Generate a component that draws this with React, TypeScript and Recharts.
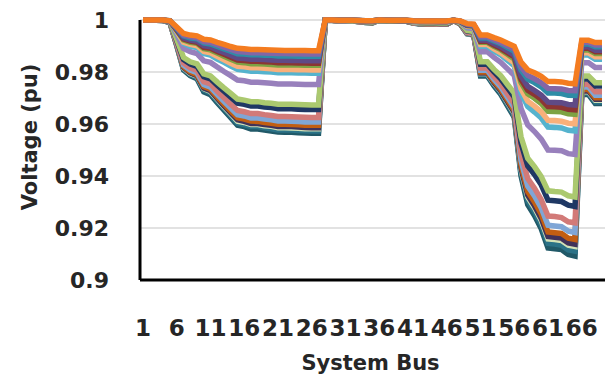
import React from 'react';
import { LineChart, Line, XAxis, YAxis, CartesianGrid, Label } from 'recharts';

// Bus numbers of the 69-bus feeder
const buses = [
  1, 2, 3, 4, 5, 6, 7, 8, 9, 10, 11, 12, 13, 14, 15, 16, 17, 18, 19, 20, 21, 22, 23,
  24, 25, 26, 27, 28, 29, 30, 31, 32, 33, 34, 35, 36, 37, 38, 39, 40, 41, 42, 43, 44,
  45, 46, 47, 48, 49, 50, 51, 52, 53, 54, 55, 56, 57, 58, 59, 60, 61, 62, 63, 64, 65,
  66, 67, 68, 69,
];

const yTicks = [0.9, 0.92, 0.94, 0.96, 0.98, 1];

// Bus voltage profiles (pu), one array per load level, heaviest load first.
// Each array: buses 1-27 / 28-47 / 48-69.
const v100 = [
  1.0, 1.0, 0.9999, 0.9998, 0.999, 0.9901, 0.9808, 0.9786, 0.9774, 0.9724, 0.9713, 0.9682, 0.9653, 0.9624, 0.9595, 0.959, 0.9581, 0.9581, 0.9577, 0.9573, 0.9569, 0.9568, 0.9568, 0.9566, 0.9565, 0.9564, 0.9564,
  0.9999, 0.9998, 0.9997, 0.9997, 0.9996, 0.9993, 0.999, 0.9989, 0.9999, 0.9997, 0.9996, 0.9995, 0.9995, 0.9988, 0.9985, 0.9985, 0.9985, 0.9984, 0.9984, 0.9998,
  0.9985, 0.9947, 0.9942, 0.9785, 0.9785, 0.9747, 0.9714, 0.967, 0.9626, 0.9401, 0.929, 0.9248, 0.9197, 0.9123, 0.912, 0.9117, 0.9098, 0.9092, 0.9713, 0.9713, 0.9679, 0.9679,
];
const v98 = [
  1.0, 1.0, 0.9999, 0.9998, 0.999, 0.9903, 0.9812, 0.979, 0.9779, 0.973, 0.9719, 0.9688, 0.966, 0.9631, 0.9603, 0.9598, 0.959, 0.959, 0.9585, 0.9582, 0.9577, 0.9577, 0.9577, 0.9575, 0.9574, 0.9573, 0.9573,
  0.9999, 0.9999, 0.9997, 0.9997, 0.9996, 0.9994, 0.999, 0.999, 0.9999, 0.9998, 0.9996, 0.9995, 0.9995, 0.9989, 0.9986, 0.9985, 0.9985, 0.9984, 0.9984, 0.9998,
  0.9986, 0.9948, 0.9943, 0.979, 0.979, 0.9752, 0.972, 0.9676, 0.9633, 0.9413, 0.9305, 0.9263, 0.9213, 0.9141, 0.9138, 0.9134, 0.9116, 0.9111, 0.9719, 0.9719, 0.9685, 0.9685,
];
const v96 = [
  1.0, 1.0, 0.9999, 0.9998, 0.9991, 0.9905, 0.9816, 0.9794, 0.9784, 0.9736, 0.9725, 0.9695, 0.9666, 0.9639, 0.9611, 0.9606, 0.9598, 0.9598, 0.9593, 0.9591, 0.9586, 0.9586, 0.9585, 0.9584, 0.9582, 0.9582, 0.9582,
  0.9999, 0.9999, 0.9997, 0.9997, 0.9996, 0.9994, 0.999, 0.999, 0.9999, 0.9998, 0.9996, 0.9996, 0.9996, 0.9989, 0.9986, 0.9986, 0.9986, 0.9985, 0.9985, 0.9998,
  0.9986, 0.9949, 0.9944, 0.9794, 0.9794, 0.9757, 0.9726, 0.9683, 0.9641, 0.9425, 0.9319, 0.9278, 0.9229, 0.9158, 0.9156, 0.9152, 0.9134, 0.9129, 0.9724, 0.9724, 0.9691, 0.9691,
];
const v95 = [
  1.0, 1.0, 0.9999, 0.9998, 0.9991, 0.9906, 0.9818, 0.9797, 0.9786, 0.9738, 0.9728, 0.9698, 0.967, 0.9643, 0.9616, 0.961, 0.9602, 0.9602, 0.9598, 0.9595, 0.959, 0.959, 0.959, 0.9588, 0.9587, 0.9586, 0.9586,
  0.9999, 0.9999, 0.9997, 0.9997, 0.9996, 0.9994, 0.9991, 0.999, 0.9999, 0.9998, 0.9996, 0.9996, 0.9996, 0.9989, 0.9986, 0.9986, 0.9986, 0.9985, 0.9985, 0.9998,
  0.9986, 0.995, 0.9944, 0.9796, 0.9796, 0.9759, 0.9728, 0.9686, 0.9645, 0.9431, 0.9326, 0.9285, 0.9237, 0.9167, 0.9164, 0.9161, 0.9143, 0.9138, 0.9727, 0.9727, 0.9695, 0.9695,
];
const v93 = [
  1.0, 1.0, 0.9999, 0.9999, 0.9991, 0.9908, 0.9821, 0.9801, 0.979, 0.9744, 0.9734, 0.9704, 0.9677, 0.965, 0.9624, 0.9619, 0.9611, 0.961, 0.9606, 0.9603, 0.9599, 0.9599, 0.9598, 0.9597, 0.9595, 0.9595, 0.9595,
  0.9999, 0.9999, 0.9997, 0.9997, 0.9996, 0.9994, 0.9991, 0.999, 0.9999, 0.9998, 0.9996, 0.9996, 0.9996, 0.9989, 0.9987, 0.9986, 0.9986, 0.9985, 0.9985, 0.9998,
  0.9986, 0.9951, 0.9946, 0.98, 0.98, 0.9764, 0.9734, 0.9693, 0.9652, 0.9443, 0.934, 0.93, 0.9253, 0.9185, 0.9182, 0.9179, 0.9161, 0.9156, 0.9733, 0.9733, 0.9701, 0.9701,
];
const v90 = [
  1.0, 1.0, 0.9999, 0.9999, 0.9991, 0.9911, 0.9827, 0.9807, 0.9797, 0.9752, 0.9742, 0.9714, 0.9687, 0.9661, 0.9636, 0.9631, 0.9623, 0.9623, 0.9619, 0.9616, 0.9612, 0.9612, 0.9611, 0.961, 0.9608, 0.9608, 0.9608,
  0.9999, 0.9999, 0.9998, 0.9997, 0.9996, 0.9994, 0.9991, 0.9991, 0.9999, 0.9998, 0.9996, 0.9996, 0.9996, 0.999, 0.9987, 0.9987, 0.9987, 0.9986, 0.9986, 0.9998,
  0.9987, 0.9952, 0.9947, 0.9807, 0.9807, 0.9772, 0.9743, 0.9703, 0.9663, 0.9461, 0.9361, 0.9323, 0.9277, 0.9211, 0.9208, 0.9205, 0.9188, 0.9183, 0.9742, 0.9742, 0.9711, 0.9711,
];
const v86 = [
  1.0, 1.0, 0.9999, 0.9999, 0.9992, 0.9915, 0.9835, 0.9816, 0.9806, 0.9763, 0.9754, 0.9726, 0.9701, 0.9676, 0.9652, 0.9647, 0.964, 0.964, 0.9636, 0.9633, 0.9629, 0.9629, 0.9628, 0.9627, 0.9626, 0.9625, 0.9625,
  0.9999, 0.9999, 0.9998, 0.9998, 0.9997, 0.9994, 0.9991, 0.9991, 0.9999, 0.9998, 0.9996, 0.9996, 0.9996, 0.999, 0.9988, 0.9987, 0.9987, 0.9986, 0.9986, 0.9998,
  0.9987, 0.9954, 0.995, 0.9815, 0.9815, 0.9782, 0.9754, 0.9716, 0.9678, 0.9485, 0.939, 0.9353, 0.9309, 0.9246, 0.9244, 0.924, 0.9224, 0.922, 0.9753, 0.9753, 0.9724, 0.9724,
];
const v79 = [
  1.0, 1.0, 0.9999, 0.9999, 0.9992, 0.9922, 0.9848, 0.9831, 0.9822, 0.9782, 0.9774, 0.9749, 0.9726, 0.9703, 0.968, 0.9676, 0.9669, 0.9669, 0.9665, 0.9663, 0.9659, 0.9659, 0.9659, 0.9657, 0.9656, 0.9656, 0.9656,
  0.9999, 0.9999, 0.9998, 0.9998, 0.9997, 0.9995, 0.9992, 0.9992, 0.9999, 0.9998, 0.9997, 0.9996, 0.9996, 0.9991, 0.9989, 0.9988, 0.9988, 0.9987, 0.9987, 0.9998,
  0.9988, 0.9958, 0.9954, 0.983, 0.983, 0.98, 0.9774, 0.9739, 0.9704, 0.9527, 0.9439, 0.9406, 0.9366, 0.9307, 0.9305, 0.9302, 0.9288, 0.9283, 0.9773, 0.9773, 0.9746, 0.9746,
];
const v75 = [
  1.0, 1.0, 0.9999, 0.9999, 0.9993, 0.9926, 0.9856, 0.9839, 0.9831, 0.9793, 0.9785, 0.9761, 0.9739, 0.9718, 0.9696, 0.9692, 0.9686, 0.9686, 0.9682, 0.968, 0.9676, 0.9676, 0.9676, 0.9675, 0.9674, 0.9673, 0.9673,
  0.9999, 0.9999, 0.9998, 0.9998, 0.9997, 0.9995, 0.9993, 0.9992, 0.9999, 0.9998, 0.9997, 0.9997, 0.9997, 0.9991, 0.9989, 0.9989, 0.9989, 0.9988, 0.9988, 0.9998,
  0.9989, 0.996, 0.9956, 0.9839, 0.9839, 0.981, 0.9786, 0.9752, 0.9719, 0.9551, 0.9468, 0.9436, 0.9398, 0.9343, 0.934, 0.9338, 0.9324, 0.9319, 0.9785, 0.9785, 0.9759, 0.9759,
];
const v57 = [
  1.0, 1.0, 1.0, 0.9999, 0.9994, 0.9944, 0.9891, 0.9878, 0.9871, 0.9843, 0.9837, 0.9819, 0.9802, 0.9786, 0.9769, 0.9766, 0.9761, 0.9761, 0.9759, 0.9757, 0.9754, 0.9754, 0.9754, 0.9753, 0.9752, 0.9752, 0.9752,
  1.0, 0.9999, 0.9998, 0.9998, 0.9998, 0.9996, 0.9994, 0.9994, 1.0, 0.9999, 0.9998, 0.9997, 0.9997, 0.9993, 0.9992, 0.9992, 0.9991, 0.9991, 0.9991, 0.9999,
  0.9992, 0.997, 0.9967, 0.9878, 0.9878, 0.9856, 0.9837, 0.9812, 0.9787, 0.9659, 0.9596, 0.9571, 0.9542, 0.95, 0.9499, 0.9497, 0.9486, 0.9483, 0.9836, 0.9836, 0.9817, 0.9817,
];
const v47 = [
  1.0, 1.0, 1.0, 0.9999, 0.9995, 0.9953, 0.991, 0.9899, 0.9894, 0.9871, 0.9865, 0.985, 0.9837, 0.9823, 0.981, 0.9807, 0.9803, 0.9803, 0.9801, 0.98, 0.9797, 0.9797, 0.9797, 0.9796, 0.9796, 0.9795, 0.9795,
  1.0, 0.9999, 0.9999, 0.9999, 0.9998, 0.9997, 0.9995, 0.9995, 1.0, 0.9999, 0.9998, 0.9998, 0.9998, 0.9995, 0.9993, 0.9993, 0.9993, 0.9993, 0.9992, 0.9999,
  0.9993, 0.9975, 0.9973, 0.9899, 0.9899, 0.9881, 0.9866, 0.9845, 0.9824, 0.9719, 0.9667, 0.9646, 0.9623, 0.9588, 0.9587, 0.9585, 0.9576, 0.9573, 0.9865, 0.9865, 0.9849, 0.9849,
];
const v44 = [
  1.0, 1.0, 1.0, 0.9999, 0.9996, 0.9956, 0.9915, 0.9906, 0.9901, 0.9879, 0.9874, 0.986, 0.9847, 0.9834, 0.9822, 0.982, 0.9816, 0.9816, 0.9814, 0.9812, 0.981, 0.981, 0.981, 0.9809, 0.9809, 0.9808, 0.9808,
  1.0, 0.9999, 0.9999, 0.9999, 0.9998, 0.9997, 0.9996, 0.9995, 1.0, 0.9999, 0.9998, 0.9998, 0.9998, 0.9995, 0.9994, 0.9993, 0.9993, 0.9993, 0.9993, 0.9999,
  0.9994, 0.9977, 0.9974, 0.9906, 0.9906, 0.9889, 0.9874, 0.9855, 0.9835, 0.9736, 0.9688, 0.9669, 0.9647, 0.9614, 0.9613, 0.9611, 0.9603, 0.9601, 0.9874, 0.9874, 0.9859, 0.9859,
];
const v40 = [
  1.0, 1.0, 1.0, 0.9999, 0.9996, 0.996, 0.9923, 0.9914, 0.991, 0.989, 0.9885, 0.9873, 0.9861, 0.9849, 0.9838, 0.9836, 0.9832, 0.9832, 0.9831, 0.9829, 0.9827, 0.9827, 0.9827, 0.9827, 0.9826, 0.9826, 0.9826,
  1.0, 0.9999, 0.9999, 0.9999, 0.9998, 0.9997, 0.9996, 0.9996, 1.0, 0.9999, 0.9998, 0.9998, 0.9998, 0.9995, 0.9994, 0.9994, 0.9994, 0.9994, 0.9994, 0.9999,
  0.9994, 0.9979, 0.9977, 0.9914, 0.9914, 0.9899, 0.9886, 0.9868, 0.985, 0.976, 0.9716, 0.9699, 0.9679, 0.9649, 0.9648, 0.9647, 0.9639, 0.9637, 0.9885, 0.9885, 0.9871, 0.9871,
];
const v38 = [
  1.0, 1.0, 1.0, 0.9999, 0.9996, 0.9962, 0.9927, 0.9919, 0.9914, 0.9895, 0.9891, 0.9879, 0.9868, 0.9857, 0.9846, 0.9844, 0.9841, 0.9841, 0.9839, 0.9838, 0.9836, 0.9836, 0.9836, 0.9835, 0.9835, 0.9834, 0.9834,
  1.0, 0.9999, 0.9999, 0.9999, 0.9999, 0.9998, 0.9996, 0.9996, 1.0, 0.9999, 0.9998, 0.9998, 0.9998, 0.9996, 0.9994, 0.9994, 0.9994, 0.9994, 0.9994, 0.9999,
  0.9994, 0.998, 0.9978, 0.9918, 0.9918, 0.9904, 0.9891, 0.9874, 0.9858, 0.9772, 0.973, 0.9714, 0.9695, 0.9667, 0.9666, 0.9664, 0.9657, 0.9655, 0.9891, 0.9891, 0.9878, 0.9878,
];
const v36 = [
  1.0, 1.0, 1.0, 0.9999, 0.9996, 0.9964, 0.9931, 0.9923, 0.9919, 0.9901, 0.9897, 0.9885, 0.9875, 0.9865, 0.9854, 0.9852, 0.9849, 0.9849, 0.9848, 0.9846, 0.9845, 0.9845, 0.9844, 0.9844, 0.9843, 0.9843, 0.9843,
  1.0, 0.9999, 0.9999, 0.9999, 0.9999, 0.9998, 0.9996, 0.9996, 1.0, 0.9999, 0.9999, 0.9998, 0.9998, 0.9996, 0.9995, 0.9995, 0.9995, 0.9994, 0.9994, 0.9999,
  0.9995, 0.9981, 0.9979, 0.9923, 0.9923, 0.9909, 0.9897, 0.9881, 0.9865, 0.9784, 0.9745, 0.9729, 0.9711, 0.9684, 0.9683, 0.9682, 0.9675, 0.9673, 0.9897, 0.9897, 0.9884, 0.9884,
];
const v32 = [
  1.0, 1.0, 1.0, 0.9999, 0.9997, 0.9968, 0.9939, 0.9931, 0.9928, 0.9912, 0.9908, 0.9898, 0.9889, 0.988, 0.987, 0.9869, 0.9866, 0.9866, 0.9864, 0.9864, 0.9862, 0.9862, 0.9862, 0.9861, 0.9861, 0.9861, 0.9861,
  1.0, 1.0, 0.9999, 0.9999, 0.9999, 0.9998, 0.9997, 0.9997, 1.0, 0.9999, 0.9999, 0.9999, 0.9999, 0.9996, 0.9995, 0.9995, 0.9995, 0.9995, 0.9995, 0.9999,
  0.9995, 0.9983, 0.9981, 0.9931, 0.9931, 0.9919, 0.9909, 0.9894, 0.988, 0.9808, 0.9773, 0.9759, 0.9743, 0.9719, 0.9719, 0.9717, 0.9711, 0.971, 0.9908, 0.9908, 0.9897, 0.9897,
];
const v30 = [
  1.0, 1.0, 1.0, 1.0, 0.9997, 0.997, 0.9942, 0.9936, 0.9932, 0.9917, 0.9914, 0.9905, 0.9896, 0.9887, 0.9879, 0.9877, 0.9874, 0.9874, 0.9873, 0.9872, 0.9871, 0.9871, 0.987, 0.987, 0.9869, 0.9869, 0.9869,
  1.0, 1.0, 0.9999, 0.9999, 0.9999, 0.9998, 0.9997, 0.9997, 1.0, 0.9999, 0.9999, 0.9999, 0.9999, 0.9997, 0.9996, 0.9996, 0.9996, 0.9995, 0.9995, 0.9999,
  0.9996, 0.9984, 0.9982, 0.9936, 0.9936, 0.9924, 0.9914, 0.9901, 0.9888, 0.982, 0.9787, 0.9774, 0.9759, 0.9737, 0.9736, 0.9735, 0.9729, 0.9728, 0.9914, 0.9914, 0.9904, 0.9904,
];
const v27 = [
  1.0, 1.0, 1.0, 1.0, 0.9997, 0.9973, 0.9948, 0.9942, 0.9939, 0.9926, 0.9923, 0.9914, 0.9906, 0.9898, 0.9891, 0.9889, 0.9887, 0.9887, 0.9886, 0.9885, 0.9884, 0.9883, 0.9883, 0.9883, 0.9883, 0.9882, 0.9882,
  1.0, 1.0, 0.9999, 0.9999, 0.9999, 0.9998, 0.9997, 0.9997, 1.0, 0.9999, 0.9999, 0.9999, 0.9999, 0.9997, 0.9996, 0.9996, 0.9996, 0.9996, 0.9996, 0.9999,
  0.9996, 0.9986, 0.9984, 0.9942, 0.9942, 0.9932, 0.9923, 0.9911, 0.9899, 0.9838, 0.9808, 0.9797, 0.9783, 0.9763, 0.9763, 0.9762, 0.9757, 0.9755, 0.9922, 0.9922, 0.9913, 0.9913,
];

// Drawn in this order, so the lightest load ends up on top
const series = [
  { key: 'v100', color: '#215968', values: v100 },
  { key: 'v98', color: '#2B7287', values: v98 },
  { key: 'v96', color: '#D4E2B6', values: v96 },
  { key: 'v95', color: '#40325A', values: v95 },
  { key: 'v93', color: '#C25E12', values: v93 },
  { key: 'v90', color: '#7FA6D6', values: v90 },
  { key: 'v86', color: '#D27A78', values: v86 },
  { key: 'v79', color: '#1F3864', values: v79 },
  { key: 'v75', color: '#ABC96F', values: v75 },
  { key: 'v57', color: '#9880BC', values: v57 },
  { key: 'v47', color: '#55B3CE', values: v47 },
  { key: 'v44', color: '#F9B07A', values: v44 },
  { key: 'v40', color: '#7DA343', values: v40 },
  { key: 'v38', color: '#8C3533', values: v38 },
  { key: 'v36', color: '#5F4A86', values: v36 },
  { key: 'v32', color: '#2E8CA6', values: v32 },
  { key: 'v30', color: '#8366A6', values: v30 },
  { key: 'v27', color: '#F47C20', values: v27 },
];

const rows = buses.map((bus, i) => {
  const row: Record<string, number> = { bus };
  series.forEach((s) => {
    row[s.key] = s.values[i];
  });
  return row;
});

const FONT = '"DejaVu Sans", sans-serif';
const TEXT = '#262626';

export default function App() {
  return (
    <div style={{ position: 'absolute', left: 0, top: 0, width: 610, height: 377, background: '#fff' }}>
      <LineChart width={610} height={377} data={rows} margin={{ top: 20, right: 5, bottom: 0, left: 0 }}>
        <CartesianGrid vertical={false} stroke="#D9D9D9" strokeWidth={1.5} />
        <XAxis
          dataKey="bus"
          interval={4}
          padding={{ left: 3, right: 3 }}
          height={97}
          axisLine={{ stroke: '#000', strokeWidth: 3 }}
          tickLine={false}
          tickSize={0}
          tickMargin={40}
          tick={{ fill: TEXT, fontSize: 23, fontWeight: 'bold', fontFamily: FONT }}
        >
          <Label
            content={(props: any) => {
              const vb = props.viewBox;
              return (
                <text
                  x={vb.x + vb.width / 2 - 2}
                  y={vb.y + 90}
                  textAnchor="middle"
                  fill={TEXT}
                  fontSize={21}
                  fontWeight="bold"
                  fontFamily={FONT}
                >
                  System Bus
                </text>
              );
            }}
          />
        </XAxis>
        <YAxis
          type="number"
          domain={[0.9, 1]}
          ticks={yTicks}
          width={140}
          axisLine={{ stroke: '#000', strokeWidth: 3 }}
          tickLine={false}
          tickSize={0}
          tickMargin={31}
          tickFormatter={(v: number) => String(v)}
          tick={{ fill: TEXT, fontSize: 22, fontWeight: 'bold', fontFamily: FONT }}
        >
          <Label
            content={(props: any) => {
              const vb = props.viewBox;
              const cx = vb.x + 30;
              const cy = vb.y + vb.height / 2 - 13;
              return (
                <text
                  x={cx}
                  y={cy}
                  transform={`rotate(-90, ${cx}, ${cy})`}
                  textAnchor="middle"
                  dominantBaseline="central"
                  fill={TEXT}
                  fontSize={21}
                  fontWeight="bold"
                  fontFamily={FONT}
                >
                  Voltage (pu)
                </text>
              );
            }}
          />
        </YAxis>
        {series.map((s) => (
          <Line
            key={s.key}
            type="linear"
            dataKey={s.key}
            stroke={s.color}
            strokeWidth={5.5}
            dot={false}
            activeDot={false}
            isAnimationActive={false}
          />
        ))}
      </LineChart>
    </div>
  );
}
